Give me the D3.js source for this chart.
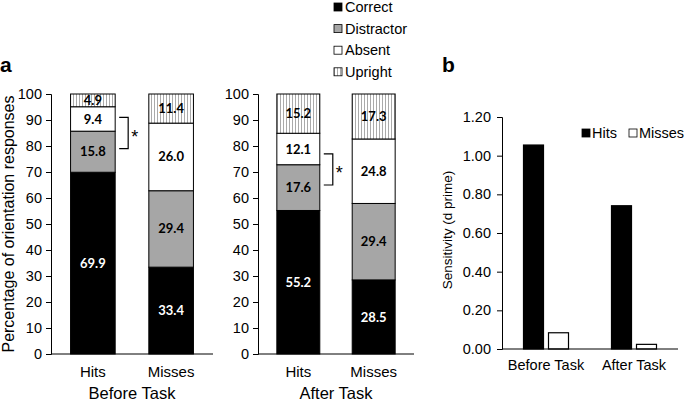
<!DOCTYPE html>
<script src='https://d3js.org/d3.v7.min.js'></script>
<html>
<body style="margin:0;background:#fff">
<div id="chart"></div>
<script>

// panel a data
var groups = ['Before Task', 'After Task'];
var conds = ['Hits', 'Misses'];
var responses = ['Correct', 'Distractor', 'Absent', 'Upright'];
var before = [[69.9, 15.8, 9.4, 4.9], [33.4, 29.4, 26.0, 11.4]];
var after = [[55.2, 17.6, 12.1, 15.2], [28.5, 29.4, 24.8, 17.3]];
var brackets = [[79, 91], [65, 77]]; // significance bracket span on the Hits bar
var pctTicks = [0, 10, 20, 30, 40, 50, 60, 70, 80, 90, 100];

// panel b data
var dGroups = ['Before Task', 'After Task'];
var dSeries = ['Hits', 'Misses'];
var dHits = [1.055, 0.741];
var dMisses = [0.084, 0.024];
var dTicks = [0, 0.2, 0.4, 0.6, 0.8, 1.0, 1.2];

var fills = {Correct: '#000', Distractor: '#a6a6a6', Absent: '#fff', Upright: 'url(#vstripes)'};
var font = 'Arial, "Liberation Sans", sans-serif';

var svg = d3.select('#chart').append('svg')
  .attr('width', 685).attr('height', 402)
  .style('font-family', font);

var pat = svg.append('defs').append('pattern')
  .attr('id', 'vstripes').attr('patternUnits', 'userSpaceOnUse')
  .attr('width', 3).attr('height', 6);
pat.append('rect').attr('width', 3).attr('height', 6).attr('fill', '#fff');
pat.append('line').attr('x1', 1.5).attr('x2', 1.5).attr('y1', 0).attr('y2', 6)
  .attr('stroke', '#aaa').attr('stroke-width', 1);

var y = d3.scaleLinear().domain([0, 100]).range([354, 94]);

function stackPanel(x0, x1, data, label, br) {
  var g = svg.append('g');
  var x = d3.scaleBand().domain(conds).range([x0, x1]).paddingInner(0.43).paddingOuter(0.25);

  g.append('g').attr('transform', 'translate(' + x0 + ',0)')
    .call(d3.axisLeft(y).tickValues(pctTicks).tickSize(5).tickPadding(4))
    .call(function (a) {
      a.select('.domain').attr('stroke', '#000');
      a.selectAll('text').style('font-size', '14.5px').style('font-family', font).attr('fill', '#000');
    });

  conds.forEach(function (c, i) {
    var acc = 0;
    data[i].forEach(function (v, k) {
      var lo = acc, hi = acc + v;
      acc = hi;
      var top = y(Math.min(hi, 100));
      g.append('rect')
        .attr('x', x(c)).attr('width', x.bandwidth())
        .attr('y', top).attr('height', y(lo) - top)
        .attr('fill', fills[responses[k]])
        .attr('stroke', '#000').attr('stroke-width', 1);
      g.append('text')
        .attr('x', x(c) + x.bandwidth() / 2)
        .attr('y', (y(lo) + top) / 2)
        .attr('dy', '0.35em')
        .attr('text-anchor', 'middle')
        .style('font-family', 'Lato, "Open Sans", sans-serif')
        .style('font-weight', 'bold').style('font-size', '13px')
        .attr('fill', k === 0 ? '#fff' : '#000')
        .text(v.toFixed(1));
    });
  });

  g.append('line').attr('x1', x0).attr('x2', x1).attr('y1', y(0)).attr('y2', y(0)).attr('stroke', '#000');

  conds.forEach(function (c) {
    g.append('text').attr('x', x(c) + x.bandwidth() / 2).attr('y', 377)
      .attr('text-anchor', 'middle').style('font-size', '15px').text(c);
  });
  g.append('text').attr('x', (x0 + x1) / 2 + 0).attr('y', 399)
    .attr('text-anchor', 'middle').style('font-size', '16.5px').text(label);

  // bracket with star
  var bx = x('Hits') + x.bandwidth() + 4;
  g.append('path')
    .attr('d', 'M' + bx + ',' + y(br[1]) + 'H' + (bx + 9) + 'V' + y(br[0]) + 'H' + bx)
    .attr('fill', 'none').attr('stroke', '#000').attr('stroke-width', 1.2);
  g.append('text').attr('x', bx + 12).attr('y', (y(br[0]) + y(br[1])) / 2 + 10)
    .style('font-size', '18px').text('*');
}

stackPanel(51, 213, before, groups[0], brackets[0]);
stackPanel(258, 414, after, groups[1], brackets[1]);

svg.append('text').attr('transform', 'translate(14,224) rotate(-90)')
  .attr('text-anchor', 'middle').style('font-size', '16px')
  .text('Percentage of orientation responses');

svg.append('text').attr('x', 0).attr('y', 72)
  .style('font-size', '21px').style('font-weight', 'bold').text('a');

// legend a
responses.forEach(function (r, i) {
  var ly = 7 + i * 21.6;
  svg.append('rect').attr('x', 334).attr('y', ly - 4).attr('width', 8).attr('height', 8)
    .attr('fill', fills[r]).attr('stroke', '#000').attr('stroke-width', 0.8);
  svg.append('text').attr('x', 345).attr('y', ly).attr('dy', '0.35em')
    .style('font-size', '14.5px').text(r);
});

// panel b
var yb = d3.scaleLinear().domain([0, 1.2]).range([349, 117]);
var xb = d3.scaleBand().domain(dGroups).range([502, 678]);
var xs = d3.scaleBand().domain(dSeries).range([0, 45]).paddingInner(0.2);

svg.append('g').attr('transform', 'translate(502,0)')
  .call(d3.axisLeft(yb).tickValues(dTicks).tickSize(5).tickPadding(6).tickFormat(d3.format('.2f')))
  .call(function (a) {
    a.select('.domain').attr('stroke', '#000');
    a.selectAll('text').style('font-size', '14.5px').style('font-family', font).attr('fill', '#000');
  });

var dVals = {Hits: dHits, Misses: dMisses};
dGroups.forEach(function (gname, i) {
  var gx = xb(gname) + xb.bandwidth() / 2 - 22.5;
  dSeries.forEach(function (s) {
    var v = dVals[s][i];
    svg.append('rect')
      .attr('x', gx + xs(s)).attr('width', xs.bandwidth())
      .attr('y', yb(v)).attr('height', yb(0) - yb(v))
      .attr('fill', s === 'Hits' ? '#000' : '#fff')
      .attr('stroke', '#000').attr('stroke-width', 1.2);
  });
  svg.append('text').attr('x', xb(gname) + xb.bandwidth() / 2).attr('y', 370)
    .attr('text-anchor', 'middle').style('font-size', '14.5px').text(gname);
});
svg.append('line').attr('x1', 502).attr('x2', 678).attr('y1', yb(0)).attr('y2', yb(0)).attr('stroke', '#000');

svg.append('text').attr('transform', 'translate(452,230) rotate(-90)')
  .attr('text-anchor', 'middle').style('font-size', '13.5px')
  .text('Sensitivity (d prime)');

svg.append('text').attr('x', 442).attr('y', 72)
  .style('font-size', '21px').style('font-weight', 'bold').text('b');

// legend b
[['Hits', 582], ['Misses', 629]].forEach(function (d) {
  svg.append('rect').attr('x', d[1]).attr('y', 129).attr('width', 8).attr('height', 8)
    .attr('fill', d[0] === 'Hits' ? '#000' : '#fff').attr('stroke', '#000').attr('stroke-width', 0.8);
  svg.append('text').attr('x', d[1] + 10).attr('y', 133).attr('dy', '0.35em')
    .style('font-size', '14.5px').text(d[0]);
});

</script>
</body>
</html>
